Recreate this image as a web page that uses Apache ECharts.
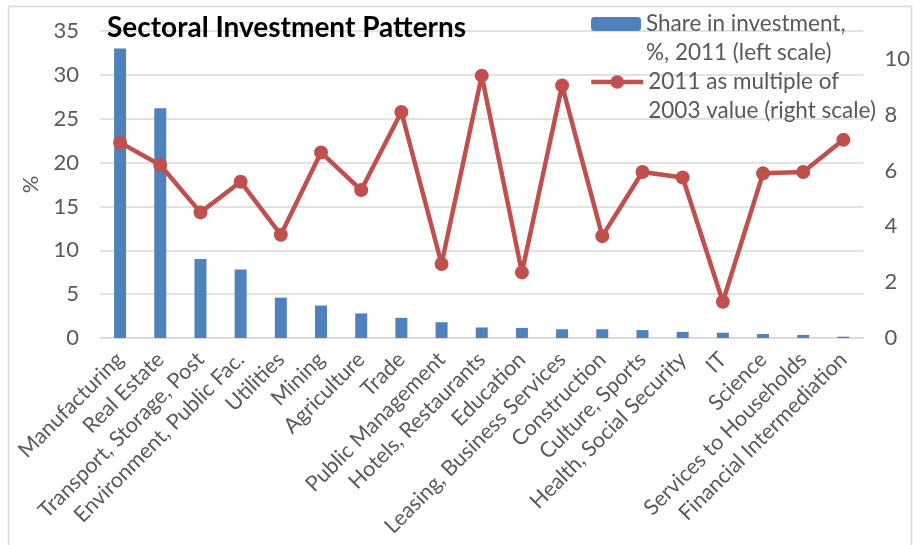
<!DOCTYPE html>
<html>
<head>
<meta charset="utf-8">
<script src="https://cdn.jsdelivr.net/npm/echarts@6/dist/echarts.min.js"></script>
<style>html,body{margin:0;padding:0;background:#fff;}#c{width:913px;height:545px;}</style>
</head>
<body>
<div id="c"></div>
<script>
const categories = ['Manufacturing','Real Estate','Transport, Storage, Post','Environment, Public Fac.','Utilities','Mining','Agriculture','Trade','Public Management','Hotels, Restaurants','Education','Leasing, Business Services','Construction','Culture, Sports','Health, Social Security','IT','Science','Services to Households','Financial Intermediation'];
const shareInvestment = [33.0, 26.2, 9.0, 7.8, 4.6, 3.7, 2.8, 2.3, 1.8, 1.2, 1.15, 1.0, 1.0, 0.9, 0.7, 0.6, 0.45, 0.35, 0.15];
const multipleOf2003 = [7.0, 6.2, 4.5, 5.6, 3.7, 6.65, 5.3, 8.1, 2.65, 9.4, 2.35, 9.05, 3.65, 5.95, 5.75, 1.3, 5.9, 5.95, 7.1];
const leftTicks = {min: 0, max: 35, interval: 5};
const rightTicks = {min: 0, max: 11, interval: 2};
const barName = 'Share in investment,\n%, 2011 (left scale)';
const lineName = '2011 as multiple of\n2003 value (right scale)';

const FONT = 'Lato';
const GRAY = '#595959';
const chart = echarts.init(document.getElementById('c'), null, {renderer: 'canvas'});
const legendText = {fontFamily: FONT, fontSize: 22.5, color: GRAY, lineHeight: 29};
// a blank first line keeps the legend icon level with the first text line
const legendFormatter = name => ' \n' + name;
chart.setOption({
  animation: false,
  backgroundColor: '#fff',
  textStyle: {fontFamily: FONT},
  graphic: [{
    type: 'rect', z: -10, silent: true,
    shape: {x: 8.5, y: 6.5, width: 903, height: 600},
    style: {fill: 'none', stroke: '#D9D9D9', lineWidth: 1.5}
  }],
  title: {
    text: 'Sectoral Investment Patterns',
    left: 102, top: 9,
    textStyle: {fontFamily: FONT, fontWeight: 'bold', fontSize: 28, color: '#000'}
  },
  legend: [{
    data: [barName], left: 586, top: -24.5, itemWidth: 50, itemHeight: 14, itemGap: 0,
    formatter: legendFormatter, textStyle: legendText, selectedMode: false
  }, {
    data: [lineName], left: 584, top: 33.5, itemWidth: 52, itemHeight: 17, itemGap: 0,
    formatter: legendFormatter, textStyle: legendText, selectedMode: false,
    lineStyle: {width: 4.5}
  }],
  grid: {left: 100, right: 49, top: 31, bottom: 207},
  xAxis: {
    type: 'category', data: categories,
    axisLine: {lineStyle: {color: '#D9D9D9', width: 1.5}},
    axisTick: {show: false},
    axisLabel: {interval: 0, rotate: 45, fontFamily: FONT, fontSize: 21.5, color: GRAY, margin: 18}
  },
  yAxis: [{
    type: 'value', min: leftTicks.min, max: leftTicks.max, interval: leftTicks.interval,
    name: '%', nameLocation: 'middle', nameGap: 58, nameRotate: 90,
    nameTextStyle: {fontFamily: FONT, fontSize: 22, color: GRAY},
    axisLine: {show: false}, axisTick: {show: false},
    axisLabel: {fontFamily: FONT, fontSize: 22, color: GRAY, margin: 21},
    splitLine: {lineStyle: {color: '#D9D9D9', width: 1.5}}
  }, {
    type: 'value', min: rightTicks.min, max: rightTicks.max, interval: rightTicks.interval,
    position: 'right',
    axisLine: {show: false}, axisTick: {show: false},
    axisLabel: {fontFamily: FONT, fontSize: 22, color: GRAY, margin: 21, showMaxLabel: false},
    splitLine: {show: false}
  }],
  series: [{
    name: barName, type: 'bar', data: shareInvestment, yAxisIndex: 0,
    barWidth: 12, itemStyle: {color: '#4F81BD'}
  }, {
    name: lineName, type: 'line', data: multipleOf2003, yAxisIndex: 1,
    symbol: 'circle', symbolSize: 14, z: 5,
    lineStyle: {color: '#C0504D', width: 4.5},
    itemStyle: {color: '#C0504D'}
  }]
});
</script>
</body>
</html>
